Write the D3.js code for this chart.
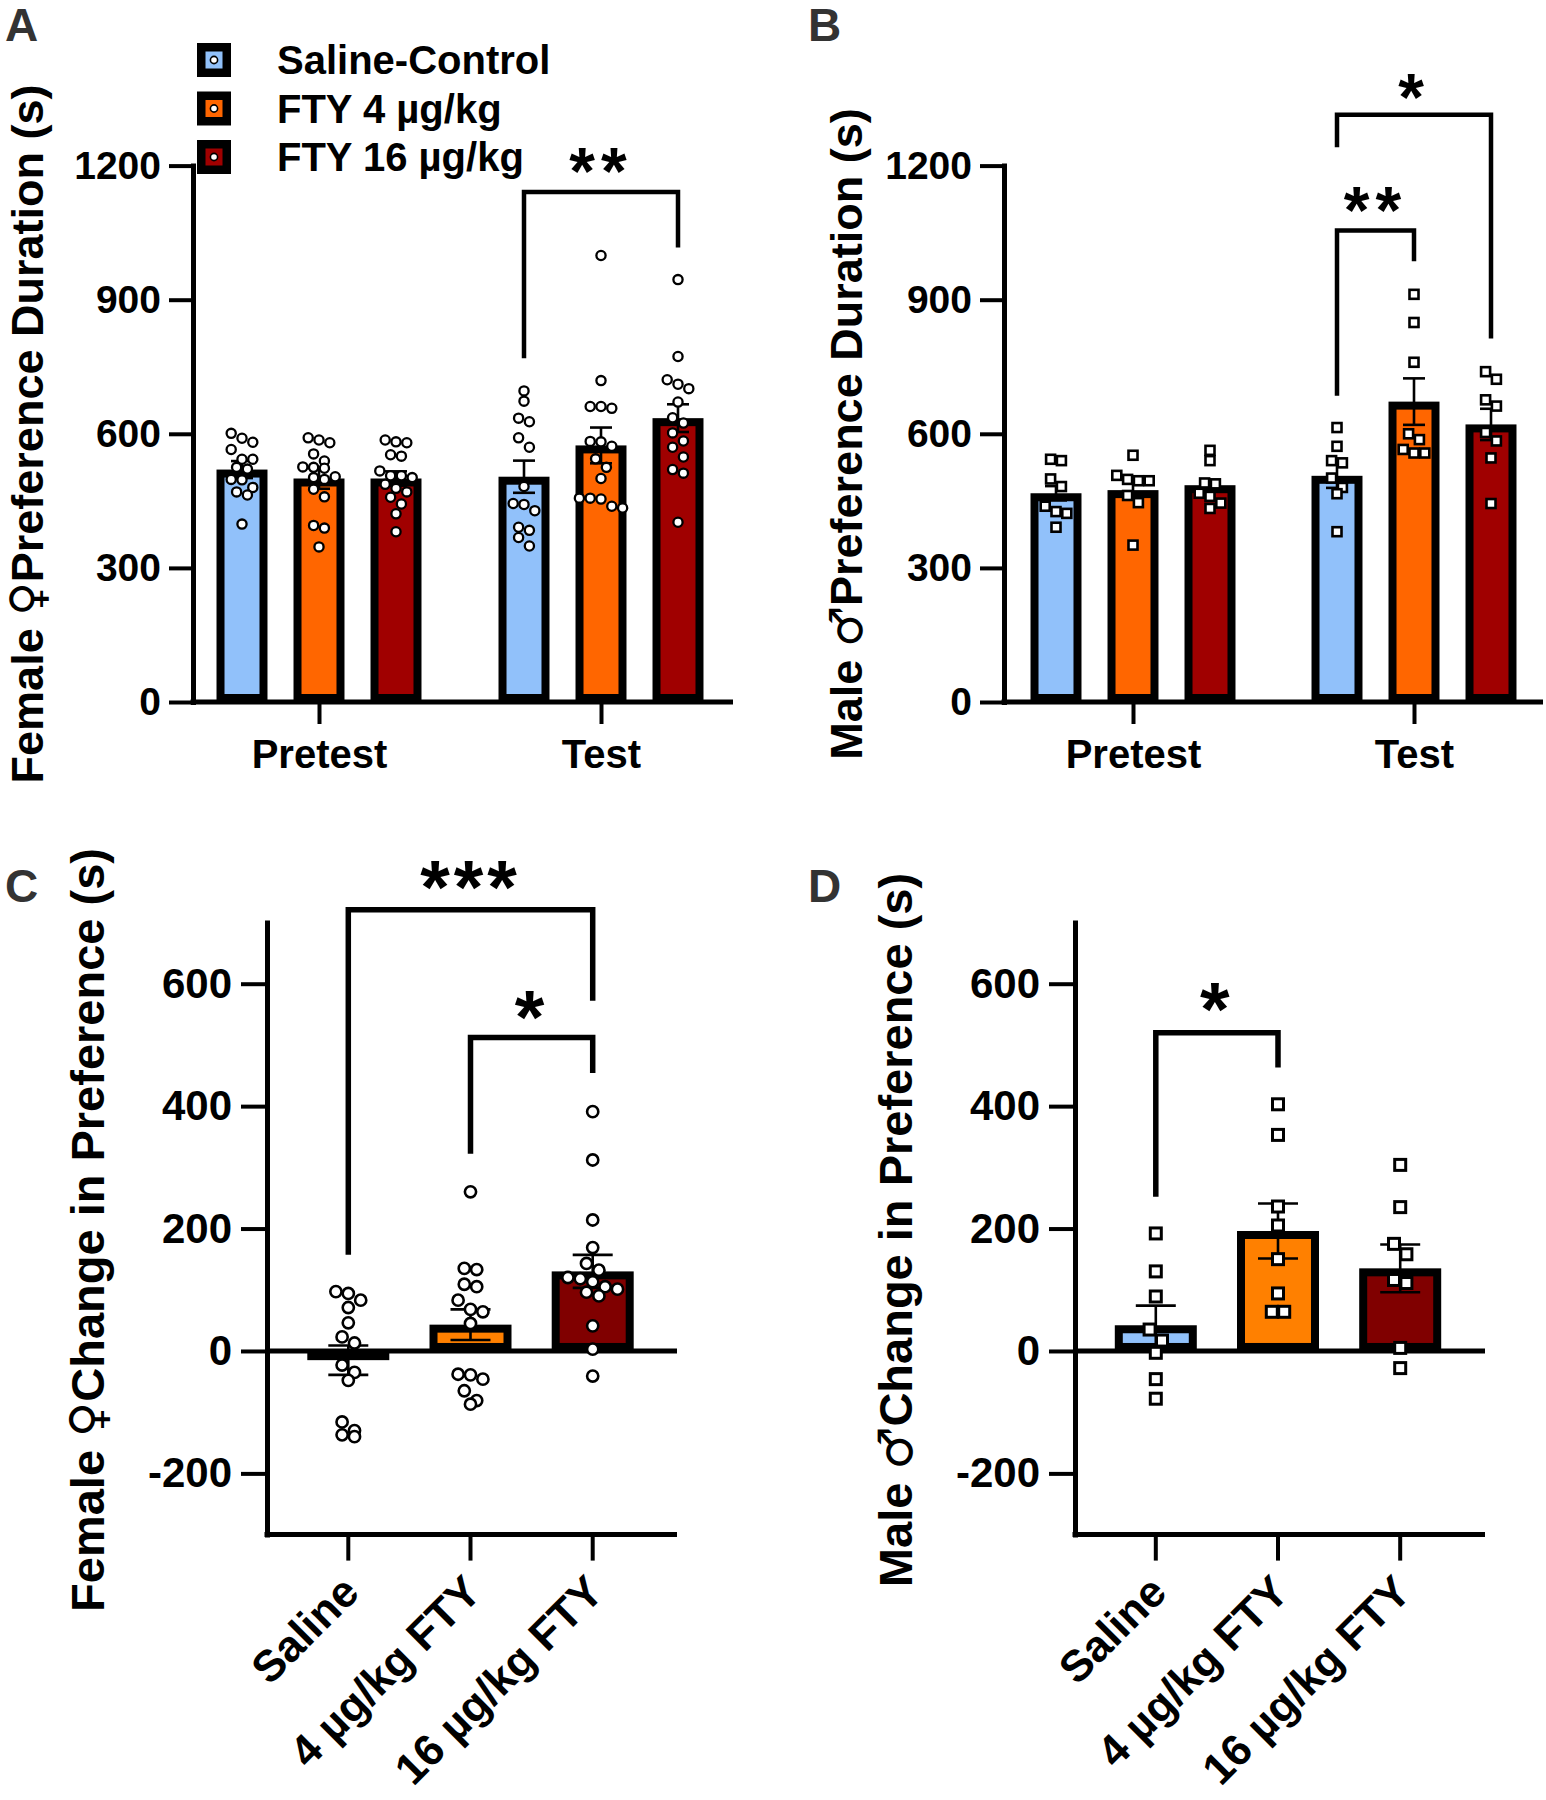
<!DOCTYPE html>
<html><head><meta charset="utf-8">
<script src="https://cdn.jsdelivr.net/npm/d3@7"></script>
<style>
body{margin:0;background:#fff;}
text{font-family:"Liberation Sans",Arial,"DejaVu Sans",sans-serif;font-weight:bold;fill:#000;}
</style></head><body>
<svg id="chart" width="1546" height="1800" xmlns="http://www.w3.org/2000/svg"></svg>
<script>
// ---------------- DATA ----------------
const series = ["Saline-Control", "FTY 4 µg/kg", "FTY 16 µg/kg"];
const phases = ["Pretest", "Test"];
const changeCats = ["Saline", "4 µg/kg FTY", "16 µg/kg FTY"];
const durTicks = [0, 300, 600, 900, 1200];
const changeTicks = [-200, 0, 200, 400, 600];

// Female duration (s)
const femPretestSaline = [601, 590, 581, 565, 543, 543, 525, 521, 498, 497, 480, 470, 463, 398];
const femPretestFty4 = [591, 586, 580, 555, 539, 526, 525, 523, 504, 502, 498, 476, 459, 395, 389, 347];
const femPretestFty16 = [586, 582, 580, 553, 550, 517, 506, 506, 502, 487, 478, 470, 458, 443, 421, 381];
const femTestSaline = [696, 673, 635, 627, 591, 570, 482, 444, 442, 428, 391, 384, 368, 349];
const femTestFty4 = [999, 719, 661, 661, 657, 583, 582, 572, 544, 525, 500, 456, 456, 454, 438, 434];
const femTestFty16 = [945, 773, 721, 711, 701, 671, 636, 624, 602, 584, 570, 548, 520, 512, 402];
const femPretestMean = [520, 500, 500];
const femPretestSem = [19, 23, 16];
const femTestMean = [504, 574, 635];
const femTestSem = [36, 40, 31];

// Male duration (s)
const malPretestSaline = [543, 540, 499, 482, 438, 426, 422, 391];
const malPretestFty4 = [552, 507, 498, 495, 495, 462, 446, 351];
const malPretestFty16 = [563, 540, 490, 488, 467, 460, 445, 433];
const malTestSaline = [614, 572, 540, 535, 501, 480, 466, 381];
const malTestFty4 = [912, 849, 760, 600, 587, 565, 557, 557];
const malTestFty16 = [739, 722, 676, 662, 603, 584, 546, 444];
const malPretestMean = [467, 474, 485];
const malPretestSem = [16, 17, 12];
const malTestMean = [506, 672, 621];
const malTestSem = [27, 52, 35];

// Change in preference (s)
const femChangeSaline = [97, 94, 83, 71, 46, 23, 13, -23, -35, -48, -116, -130, -137, -140];
const femChangeFty4 = [260, 135, 133, 109, 105, 83, 68, 64, 45, -38, -39, -46, -65, -81, -87];
const femChangeFty16 = [391, 312, 214, 169, 143, 132, 120, 118, 113, 105, 101, 96, 90, 41, 3, -41];
const femChangeMean = [-15, 43, 130];
const femChangeSem = [24, 25, 27];
const malChangeSaline = [192, 130, 89, 35, 17, -3, -46, -78];
const malChangeFty4 = [403, 353, 236, 205, 150, 94, 64, 64];
const malChangeFty16 = [304, 235, 175, 158, 116, 111, 5, -28];
const malChangeMean = [42, 196, 135];
const malChangeSem = [32, 45, 39];

// Significance brackets: [phase, from, to, barValue, leftEnd, rightEnd, starValue, label]
const femDurBrackets = [["Test", 0, 2, 1141, 769, 1017, 1222, "**"]];
const malDurBrackets = [["Test", 0, 1, 1055, 685, 986, 1135, "**"], ["Test", 0, 2, 1314, 1241, 813, 1387, "*"]];
// [from, to, barValue, leftEnd, rightEnd, starValue, label]
const femChangeBrackets = [[0, 2, 721, 157, 572, 788, "***"], [1, 2, 512, 322, 454, 575, "*"]];
const malChangeBrackets = [[0, 1, 520, 252, 463, 588, "*"]];

// ---------------- STYLE ----------------
const topColors = ["#91C1FA", "#FF6600", "#A00000"];
const botColors = ["#91C1FA", "#FF8000", "#800000"];

const svg = d3.select("#chart");

function swarmOffsets(vals, y, spacing) {
  const idx = vals.map((v, i) => i).sort((a, b) => vals[b] - vals[a]);
  const off = new Array(vals.length).fill(0);
  let row = [];
  const flush = () => {
    const n = row.length;
    row.forEach((k, j) => { off[k] = (j - (n - 1) / 2) * spacing; });
    row = [];
  };
  idx.forEach(k => {
    if (row.length && Math.abs(y(vals[k]) - y(vals[row[0]])) >= spacing * 0.95) flush();
    row.push(k);
  });
  flush();
  return off;
}

function drawBar(g, cx, bw, y0, y1, fill, border) {
  const top = Math.min(y0, y1), h = Math.abs(y1 - y0);
  g.append("rect").attr("x", cx - bw / 2).attr("y", top).attr("width", bw).attr("height", h).attr("fill", "#000");
  if (h > 2 * border) {
    g.append("rect").attr("x", cx - bw / 2 + border).attr("y", top + border)
      .attr("width", bw - 2 * border).attr("height", h - 2 * border).attr("fill", fill);
  }
}

function drawErr(g, cx, y, mean, sem, cap, sw) {
  g.append("line").attr("x1", cx).attr("x2", cx).attr("y1", y(mean - sem)).attr("y2", y(mean + sem))
    .attr("stroke", "#000").attr("stroke-width", sw);
  [mean - sem, mean + sem].forEach(v => {
    g.append("line").attr("x1", cx - cap / 2).attr("x2", cx + cap / 2).attr("y1", y(v)).attr("y2", y(v))
      .attr("stroke", "#000").attr("stroke-width", sw);
  });
}

function drawPoints(g, cx, y, vals, shape, size, sw, spacing) {
  const off = swarmOffsets(vals, y, spacing);
  vals.forEach((v, i) => {
    if (shape === "circle") {
      g.append("circle").attr("cx", cx + off[i]).attr("cy", y(v)).attr("r", size)
        .attr("fill", "#fff").attr("stroke", "#000").attr("stroke-width", sw);
    } else {
      g.append("rect").attr("x", cx + off[i] - size / 2).attr("y", y(v) - size / 2)
        .attr("width", size).attr("height", size)
        .attr("fill", "#fff").attr("stroke", "#000").attr("stroke-width", sw);
    }
  });
}

function styleAxis(sel, fs, sw) {
  sel.select(".domain").attr("stroke-width", sw).attr("stroke-linecap", "square");
  sel.selectAll(".tick line").attr("stroke-width", sw - 1);
  sel.selectAll(".tick text").attr("font-size", fs).attr("fill", "#000")
    .style("font-family", '"Liberation Sans",Arial,sans-serif').style("font-weight", "bold");
}

function bracket(g, x1, x2, yb, yl, yr, sw) {
  g.append("path").attr("d", `M${x1},${yl}V${yb}H${x2}V${yr}`)
    .attr("fill", "none").attr("stroke", "#000").attr("stroke-width", sw).attr("stroke-linejoin", "miter");
}

function star(g, x, yc, label, fs, ls) {
  g.append("text").attr("x", x).attr("y", yc + 0.58 * fs).attr("text-anchor", "middle")
    .attr("font-size", fs).attr("letter-spacing", ls).text(label);
}

// axis title with gender symbol
function title(g, tx, ty, fs, pre, sym, post) {
  const t = g.append("text").attr("transform", `translate(${tx},${ty}) rotate(-90)`)
    .attr("text-anchor", "middle").attr("font-size", fs);
  t.append("tspan").text(pre);
  t.append("tspan").style("font-family", '"DejaVu Sans",sans-serif').style("font-weight", "bold")
    .attr("font-size", fs * 1.02).text(sym);
  t.append("tspan").text(post);
}

const fmt = d => String(d);

// ---------------- DURATION PANELS ----------------
function durationPanel(o) {
  const g = svg.append("g");
  const y = d3.scaleLinear().domain([0, 1200]).range([702, 165.6]);
  const xg = d3.scalePoint().domain(phases).range(o.groupRange);
  const xs = d3.scaleBand().domain(series).range([-115.5, 115.5]).paddingInner(0.338).paddingOuter(0.169);
  const bw = xs.bandwidth();
  const cxOf = (p, s) => xg(p) + xs(series[s]) + bw / 2;

  phases.forEach((p, pi) => {
    series.forEach((s, si) => {
      drawBar(g, cxOf(p, si), bw, y(0), y(o.means[pi][si]), topColors[si], 8);
    });
  });
  phases.forEach((p, pi) => {
    series.forEach((s, si) => {
      drawErr(g, cxOf(p, si), y, o.means[pi][si], o.sems[pi][si], 22, 2.6);
    });
  });
  phases.forEach((p, pi) => {
    series.forEach((s, si) => {
      drawPoints(g, cxOf(p, si), y, o.points[pi][si], o.shape, o.shape === "circle" ? 4.6 : 9, o.shape === "circle" ? 2.3 : 2.6, 10.8);
    });
  });

  const ya = g.append("g").attr("transform", `translate(${o.axisX},0)`)
    .call(d3.axisLeft(y).tickValues(durTicks).tickFormat(fmt).tickSize(24).tickSizeOuter(0).tickPadding(8));
  styleAxis(ya, 39, 5);
  g.append("line").attr("x1", o.axisX - 2.5).attr("x2", o.axisEnd).attr("y1", y(0)).attr("y2", y(0))
    .attr("stroke", "#000").attr("stroke-width", 5);
  const xa = g.append("g").attr("transform", `translate(0,${y(0)})`)
    .call(d3.axisBottom(xg).tickSize(22).tickPadding(16));
  xa.select(".domain").remove();
  styleAxis(xa, 40, 5);

  o.brackets.forEach(b => {
    const x1 = cxOf(b[0], b[1]), x2 = cxOf(b[0], b[2]);
    bracket(g, x1, x2, y(b[3]), y(b[4]), y(b[5]), 4.5);
    star(g, (x1 + x2) / 2, y(b[6]), b[7], 66, 6);
  });

  title(g, o.titleX, 434, 45, o.title[0], o.title[1], o.title[2]);
  g.append("text").attr("x", o.letterX).attr("y", 41).attr("font-size", 46).style("fill", "#333").text(o.letter);
  return g;
}

durationPanel({
  axisX: 193, axisEnd: 733, groupRange: [319, 601],
  means: [femPretestMean, femTestMean], sems: [femPretestSem, femTestSem],
  points: [[femPretestSaline, femPretestFty4, femPretestFty16], [femTestSaline, femTestFty4, femTestFty16]],
  shape: "circle", brackets: femDurBrackets,
  title: ["Female ", "\u2640", "Preference Duration (s)"], titleX: 43, letter: "A", letterX: 5
});
durationPanel({
  axisX: 1004, axisEnd: 1543, groupRange: [1133, 1414],
  means: [malPretestMean, malTestMean], sems: [malPretestSem, malTestSem],
  points: [[malPretestSaline, malPretestFty4, malPretestFty16], [malTestSaline, malTestFty4, malTestFty16]],
  shape: "square", brackets: malDurBrackets,
  title: ["Male ", "\u2642", "Preference Duration (s)"], titleX: 862, letter: "B", letterX: 808
});

// legend
const leg = svg.append("g");
series.forEach((s, i) => {
  const cy = 60 + i * 48.5;
  leg.append("rect").attr("x", 197).attr("y", cy - 17).attr("width", 34).attr("height", 34).attr("fill", "#000");
  leg.append("rect").attr("x", 205.5).attr("y", cy - 8.5).attr("width", 17).attr("height", 17).attr("fill", topColors[i]);
  leg.append("circle").attr("cx", 214).attr("cy", cy).attr("r", 3.6).attr("fill", "#fff").attr("stroke", "#000").attr("stroke-width", 1.6);
  leg.append("text").attr("x", 277).attr("y", cy + 14).attr("font-size", 40).text(s);
});

// ---------------- CHANGE PANELS ----------------
function changePanel(o) {
  const g = svg.append("g");
  const y = d3.scaleLinear().domain([-300, 700]).range([1534.6, 922.5]);
  const x = d3.scaleBand().domain(changeCats).range(o.bandRange).paddingInner(0.329).paddingOuter(0.1645);
  const bw = x.bandwidth();
  const cx = i => x(changeCats[i]) + bw / 2;

  changeCats.forEach((c, i) => drawBar(g, cx(i), bw, y(0), y(o.means[i]), botColors[i], 8));
  g.append("line").attr("x1", o.axisX).attr("x2", o.axisEnd).attr("y1", y(0)).attr("y2", y(0))
    .attr("stroke", "#000").attr("stroke-width", 5);
  changeCats.forEach((c, i) => drawErr(g, cx(i), y, o.means[i], o.sems[i], 40, 2.6));
  changeCats.forEach((c, i) => drawPoints(g, cx(i), y, o.points[i], o.shape,
    o.shape === "circle" ? 5.6 : 11, o.shape === "circle" ? 2.6 : 3, 12.4));

  const ya = g.append("g").attr("transform", `translate(${o.axisX},0)`)
    .call(d3.axisLeft(y).tickValues(changeTicks).tickFormat(fmt).tickSize(26).tickSizeOuter(0).tickPadding(9));
  styleAxis(ya, 42, 5);
  g.append("line").attr("x1", o.axisX - 2.5).attr("x2", o.axisEnd).attr("y1", y(-300)).attr("y2", y(-300))
    .attr("stroke", "#000").attr("stroke-width", 5);
  const xa = g.append("g").attr("transform", `translate(0,${y(-300)})`)
    .call(d3.axisBottom(x).tickSize(26));
  xa.select(".domain").remove();
  styleAxis(xa, 44, 5);
  xa.selectAll(".tick text").attr("text-anchor", "end").attr("x", null).attr("y", null).attr("dy", null)
    .attr("transform", "translate(13,60) rotate(-45)");

  o.brackets.forEach(b => {
    const x1 = cx(b[0]), x2 = cx(b[1]);
    bracket(g, x1, x2, y(b[2]), y(b[3]), y(b[4]), 5.5);
    star(g, (x1 + x2) / 2, y(b[5]), b[6], 76, 4);
  });

  title(g, o.titleX, 1230, 47, o.title[0], o.title[1], o.title[2]);
  g.append("text").attr("x", o.letterX).attr("y", 902).attr("font-size", 46).style("fill", "#333").text(o.letter);
}

changePanel({
  axisX: 267, axisEnd: 677, bandRange: [287.2, 653.8],
  means: femChangeMean, sems: femChangeSem,
  points: [femChangeSaline, femChangeFty4, femChangeFty16], shape: "circle",
  brackets: femChangeBrackets, title: ["Female ", "\u2640", "Change in Preference (s)"], titleX: 104, letter: "C", letterX: 5
});
changePanel({
  axisX: 1075, axisEnd: 1485, bandRange: [1094.7, 1461.3],
  means: malChangeMean, sems: malChangeSem,
  points: [malChangeSaline, malChangeFty4, malChangeFty16], shape: "square",
  brackets: malChangeBrackets, title: ["Male ", "\u2642", "Change in Preference (s)"], titleX: 912, letter: "D", letterX: 808
});
</script>
</body></html>
